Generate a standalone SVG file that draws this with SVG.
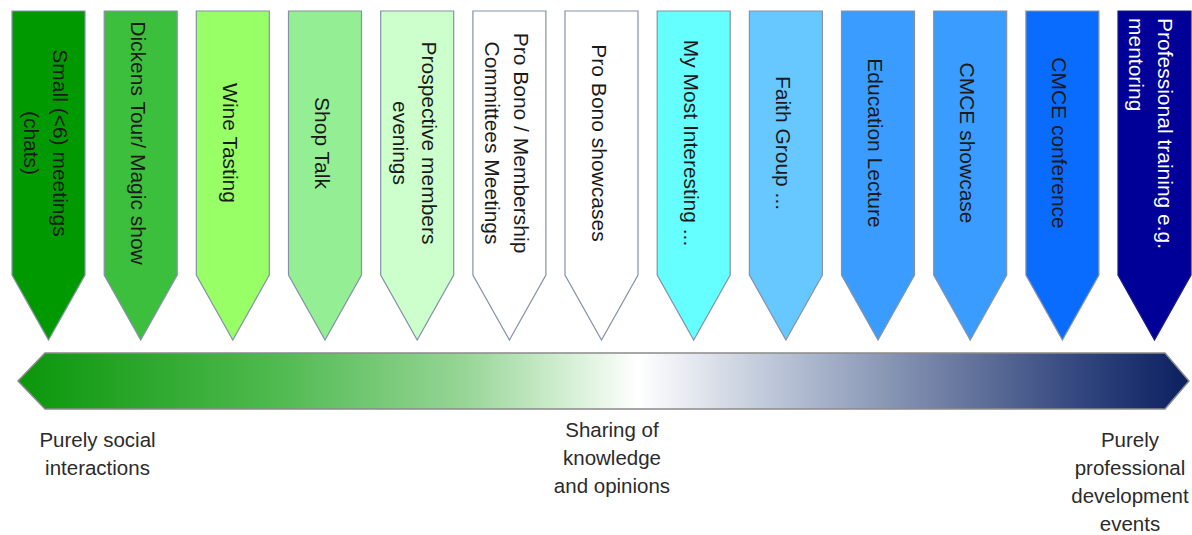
<svg xmlns="http://www.w3.org/2000/svg" width="1192" height="535" viewBox="0 0 1192 535">
  <style>
    .arr { stroke: #8592a6; stroke-width: 1.2; stroke-linejoin: miter; }
    .t { font-family: "Liberation Sans", Arial, sans-serif; font-size: 21px; fill: #1a1a1a; text-anchor: middle; }
    .tw { fill: #ffffff; text-anchor: start; }
    .lbl { font-family: "Liberation Sans", Arial, sans-serif; font-size: 20.5px; fill: #2b2b2b; text-anchor: middle; }
  </style>
  <defs>
    <linearGradient id="spec" x1="18" y1="0" x2="1189" y2="0" gradientUnits="userSpaceOnUse">
      <stop offset="0" stop-color="#0a960a"/>
      <stop offset="0.22" stop-color="#4fba4f"/>
      <stop offset="0.38" stop-color="#96d596"/>
      <stop offset="0.46" stop-color="#cdeccd"/>
      <stop offset="0.53" stop-color="#ffffff"/>
      <stop offset="0.66" stop-color="#b4bfd3"/>
      <stop offset="0.80" stop-color="#6a7aa0"/>
      <stop offset="0.92" stop-color="#2c407a"/>
      <stop offset="1" stop-color="#0c1f60"/>
    </linearGradient>
  </defs>
  <rect width="1192" height="535" fill="#ffffff"/>

  <g id="n1">
    <polygon class="arr" fill="#009a00" points="12,11 85,11 85,275 48.5,340 12,275"/>
    <text class="t" transform="translate(48.5,143) rotate(90)"><tspan x="0" y="-4.5">Small (&lt;6) meetings</tspan><tspan x="0" y="24.5">(chats)</tspan></text>
  </g>
  <g id="n2">
    <polygon class="arr" fill="#3cbf3c" points="104.2,11 177.2,11 177.2,275 140.7,340 104.2,275"/>
    <text class="t" transform="translate(140.7,143) rotate(90)" y="10">Dickens Tour/ Magic show</text>
  </g>
  <g id="n3">
    <polygon class="arr" fill="#99ff66" points="196.3,11 269.3,11 269.3,275 232.8,340 196.3,275"/>
    <text class="t" transform="translate(232.8,143) rotate(90)" y="10">Wine Tasting</text>
  </g>
  <g id="n4">
    <polygon class="arr" fill="#94ef94" points="288.5,11 361.5,11 361.5,275 325,340 288.5,275"/>
    <text class="t" transform="translate(325,143) rotate(90)" y="10">Shop Talk</text>
  </g>
  <g id="n5">
    <polygon class="arr" fill="#ccffcc" points="380.7,11 453.7,11 453.7,275 417.2,340 380.7,275"/>
    <text class="t" transform="translate(417.2,143) rotate(90)"><tspan x="0" y="-4.5">Prospective members</tspan><tspan x="0" y="24.5">evenings</tspan></text>
  </g>
  <g id="n6">
    <polygon class="arr" fill="#ffffff" points="472.9,11 545.9,11 545.9,275 509.4,340 472.9,275"/>
    <text class="t" transform="translate(509.4,143) rotate(90)"><tspan x="0" y="-4.5">Pro Bono / Membership</tspan><tspan x="0" y="24.5">Committees Meetings</tspan></text>
  </g>
  <g id="n7">
    <polygon class="arr" fill="#ffffff" points="565,11 638,11 638,275 601.5,340 565,275"/>
    <text class="t" transform="translate(601.5,143) rotate(90)" y="10">Pro Bono showcases</text>
  </g>
  <g id="n8">
    <polygon class="arr" fill="#66ffff" points="657.2,11 730.2,11 730.2,275 693.7,340 657.2,275"/>
    <text class="t" transform="translate(693.7,143) rotate(90)" y="10">My Most Interesting ...</text>
  </g>
  <g id="n9">
    <polygon class="arr" fill="#66c8ff" points="749.4,11 822.4,11 822.4,275 785.9,340 749.4,275"/>
    <text class="t" transform="translate(785.9,143) rotate(90)" y="10">Faith Group ...</text>
  </g>
  <g id="n10">
    <polygon class="arr" fill="#3b9cff" points="841.5,11 914.5,11 914.5,275 878,340 841.5,275"/>
    <text class="t" transform="translate(878,143) rotate(90)" y="10">Education Lecture</text>
  </g>
  <g id="n11">
    <polygon class="arr" fill="#3b9cff" points="933.7,11 1006.7,11 1006.7,275 970.2,340 933.7,275"/>
    <text class="t" transform="translate(970.2,143) rotate(90)" y="10">CMCE showcase</text>
  </g>
  <g id="n12">
    <polygon class="arr" fill="#0a6cff" points="1025.9,11 1098.9,11 1098.9,275 1062.4,340 1025.9,275"/>
    <text class="t" transform="translate(1062.4,143) rotate(90)" y="10">CMCE conference</text>
  </g>
  <g id="n13">
    <polygon class="arr" fill="#000099" points="1118,11 1191,11 1191,275 1154.5,340 1118,275" style="stroke:#1a1a80"/>
    <text class="t tw" transform="translate(1154.5,18) rotate(90)"><tspan x="0" y="-3.5">Professional training e.g.</tspan><tspan x="0" y="25.5">mentoring</tspan></text>
  </g>

  <g id="connectors">
    <polygon id="spectrum" points="18,381 45,353 1165,353 1189,381 1165,409 45,409" fill="url(#spec)" stroke="#8a8a8a" stroke-width="1.5"/>
  </g>

  <g id="label-social">
    <text class="lbl"><tspan x="97.5" y="447">Purely social</tspan><tspan x="97.5" y="475">interactions</tspan></text>
  </g>
  <g id="label-sharing">
    <text class="lbl"><tspan x="612" y="437">Sharing of</tspan><tspan x="612" y="465">knowledge</tspan><tspan x="612" y="493">and opinions</tspan></text>
  </g>
  <g id="label-professional">
    <text class="lbl"><tspan x="1130" y="447">Purely</tspan><tspan x="1130" y="475">professional</tspan><tspan x="1130" y="503">development</tspan><tspan x="1130" y="531">events</tspan></text>
  </g>
</svg>
